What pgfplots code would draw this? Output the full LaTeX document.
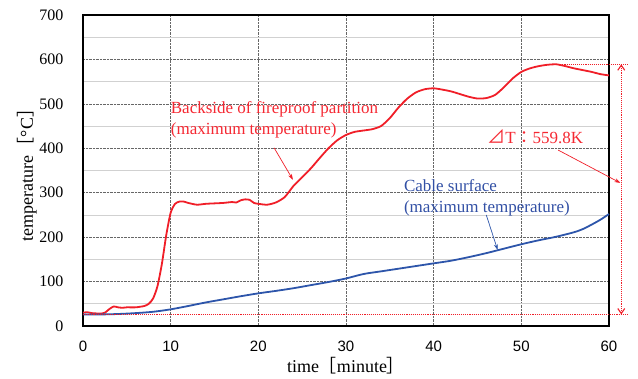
\documentclass[border=0pt]{standalone}
\usepackage{fontspec}
\setmainfont{Liberation Serif}
\newfontfamily\arialf{Liberation Sans}
\newfontfamily\cjk{Noto Sans CJK JP}
\usepackage{pgfplots}
\pgfplotsset{compat=1.18}
\usetikzlibrary{arrows.meta}
\definecolor{redline}{RGB}{240,30,40}
\definecolor{redtext}{RGB}{245,40,50}
\definecolor{blueline}{RGB}{45,85,170}
\definecolor{bluetext}{RGB}{50,80,165}
\begin{document}
\begin{tikzpicture}
\path[use as bounding box] (-83pt,-53pt) rectangle (555pt,326pt);
\begin{axis}[
  at={(0,0)}, anchor=south west,
  scale only axis, width=526pt, height=311pt,
  xmin=0, xmax=60, ymin=0, ymax=700,
  xtick={0,10,...,60}, ytick={0,100,...,700},
  minor ytick={50,150,...,650},
  major tick length=0pt, minor tick length=0pt,
  grid=both,
  major grid style={black!60, densely dotted, line width=0.6pt},
  minor grid style={black!18, line width=0.6pt},
  axis line style={line width=1.3pt},
  /pgf/number format/assume math mode=true,
  yticklabel style={font=\fontsize{16}{18}\selectfont, xshift=-16pt},
  xticklabel style={font=\arialf\fontsize{15}{17}\selectfont, yshift=-11pt},
  xlabel={time{\cjk［}minute{\cjk］}}, ylabel={temperature{\cjk［}\textdegree C{\cjk］}},
  xlabel style={font=\fontsize{18}{20}\selectfont, yshift=1pt},
  ylabel style={font=\fontsize{18}{20}\selectfont, yshift=-4pt},
  clip=false,
]
\addplot[redline, line width=1.8pt, smooth, tension=0.4] coordinates {
(0,30)(0.5,31)(1,29)(2,28)(2.5,30)(3,38)(3.5,44)(4,42)(4.5,41)(5,42)(6,42)(7,45)(7.5,50)(8,62)(8.5,90)(9,140)(9.5,205)(10,255)(10.5,275)(11,280)(11.5,280)(12,277)(13,273)(14,275)(15,276)(16,277)(17,279)(17.5,278)(18,283)(18.5,285)(19,284)(19.5,277)(20,275)(21,273)(22,278)(23,290)(24,315)(25,335)(26,355)(27,378)(28,400)(29,418)(30,430)(31,437)(32,440)(33,443)(34,450)(35,468)(36,492)(37,512)(38,526)(39,533)(40,535)(41,532)(42,528)(43,522)(44,516)(45,512)(46,513)(47,520)(48,537)(49,557)(50,572)(51,580)(52,585)(53,588)(54,589)(55,585)(56,580)(57,576)(58,572)(59,567)(60,564)
};
\addplot[blueline, line width=1.8pt, smooth] coordinates {
(0,26)(2,26)(4,27)(6,29)(8,32)(10,37.5)(12,45)(14,53)(16,60)(18,67)(20,73.5)(22,79)(24,85)(26,92)(28,99)(30,107)(32,117)(34,123)(36,129)(38,135)(40,141)(42,147)(44,155)(46,164)(48,174)(50,184)(52,193)(54,201)(56,211)(57,218)(58,228)(59,239)(60,252)
};
% reference dotted lines
\addplot[redline, densely dotted, line width=1.1pt] coordinates {(0,26)(62.2,26)};
\addplot[redline, densely dotted, line width=1.1pt] coordinates {(53,589)(62.2,589)};
\addplot[redline, densely dotted, line width=1.1pt, {Straight Barb[length=5pt,width=7pt]}-{Straight Barb[length=5pt,width=7pt]}] coordinates {(61.4,26)(61.4,589)};
% annotation arrows
\addplot[redline, line width=0.7pt, -{Stealth[length=6pt,width=4pt]}] coordinates {(21.8,401)(23.95,329)};
\addplot[redline, line width=0.7pt, -{Stealth[length=6pt,width=4pt]}] coordinates {(54.2,396)(61.3,322)};
\addplot[blueline, line width=0.7pt, -{Stealth[length=6pt,width=4pt]}] coordinates {(46.0,250)(47.3,171)};
% labels
\node[anchor=west, align=left, inner sep=0pt, text=redtext, font=\fontsize{17}{21}\selectfont] at (axis cs:10,463) {Backside of fireproof partition\\(maximum temperature)};
\node[anchor=west, align=left, inner sep=0pt, text=bluetext, font=\fontsize{17}{21}\selectfont] at (axis cs:36.6,289) {Cable surface\\(maximum temperature)};
\node[anchor=west, inner sep=0pt, text=redtext, font=\fontsize{17}{18}\selectfont] at (axis cs:46.1,426) {{\cjk\fontsize{18}{18}\selectfont ⊿}T{\cjk ：}559.8K};
\end{axis}
\end{tikzpicture}
\end{document}
